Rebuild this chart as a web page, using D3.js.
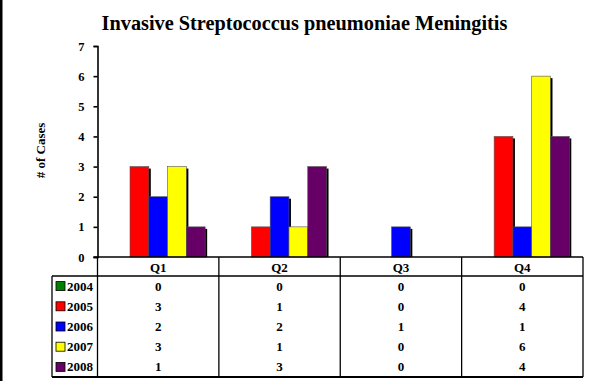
<!DOCTYPE html>
<html>
<head>
<meta charset="utf-8">
<script src="https://cdn.jsdelivr.net/npm/d3@7"></script>
<style>
  html, body { margin: 0; padding: 0; background: #fff; }
  svg { display: block; }
  text { font-family: "Liberation Serif", "Times New Roman", serif; font-weight: bold; fill: #000; }
</style>
</head>
<body>
<svg id="chart" width="589" height="381"></svg>
<script>
const title = "Invasive Streptococcus pneumoniae Meningitis";
const yAxisLabel = "# of Cases";
const quarters = ["Q1", "Q2", "Q3", "Q4"];
const years = ["2004", "2005", "2006", "2007", "2008"];
const colors = ["#008000", "#FF0000", "#0000FF", "#FFFF00", "#660066"];
const v2004 = [0, 0, 0, 0];
const v2005 = [3, 1, 0, 4];
const v2006 = [2, 2, 1, 1];
const v2007 = [3, 1, 0, 6];
const v2008 = [1, 3, 0, 4];
const yTicks = [0, 1, 2, 3, 4, 5, 6, 7];

const seriesValues = [v2004, v2005, v2006, v2007, v2008];
const series = years.map((y, i) => ({ year: y, color: colors[i], values: seriesValues[i] }));

const svg = d3.select("#chart");
const W = 589, H = 381;

// left frame line
svg.append("rect").attr("x", 0).attr("y", 0).attr("width", 2.5).attr("height", H).attr("fill", "#000");

const plotLeft = 97.5, plotRight = 583, plotTop = 46, plotBottom = 257;
const tableTop = plotBottom, headerBottom = 276, tableBottom = 377, legendLeft = 52;

const x = d3.scaleBand().domain(quarters).range([plotLeft, plotRight]).paddingInner(0).paddingOuter(0);
const xInner = d3.scaleBand().domain(years).range([0, x.bandwidth()]).paddingInner(0).paddingOuter(0.73);
const y = d3.scaleLinear().domain([0, 7]).range([plotBottom, plotTop]);

// title
svg.append("text").attr("x", 304.5).attr("y", 29.5).attr("text-anchor", "middle")
  .style("font-size", "20.3px").text(title);

// y axis label
svg.append("text").attr("transform", `translate(44.5,150.5) rotate(-90)`)
  .attr("text-anchor", "middle").style("font-size", "13px").text(yAxisLabel);

// bars
const groups = svg.append("g").selectAll("g").data(series).join("g");
const barData = d => quarters.map((q, i) => ({ q, v: d.values[i], year: d.year, color: d.color })).filter(e => e.v > 0);
// shadows
groups.selectAll("rect.shadow").data(barData).join("rect").attr("class", "shadow")
  .attr("x", e => x(e.q) + xInner(e.year) + 2)
  .attr("y", e => y(e.v) + 2)
  .attr("width", xInner.bandwidth())
  .attr("height", e => plotBottom - y(e.v) - 2)
  .attr("fill", "#000");
groups.selectAll("rect.bar").data(barData).join("rect").attr("class", "bar")
  .attr("x", e => x(e.q) + xInner(e.year))
  .attr("y", e => y(e.v))
  .attr("width", xInner.bandwidth())
  .attr("height", e => plotBottom - y(e.v))
  .attr("fill", e => e.color)
  .attr("stroke", "#555").attr("stroke-width", 0.6);

// y axis
const yAxis = d3.axisLeft(y).tickValues(yTicks).tickSize(4).tickPadding(9).tickFormat(d3.format("d"));
const ga = svg.append("g").attr("transform", `translate(${plotLeft},0)`).call(yAxis);
ga.attr("font-family", null).attr("font-size", null);
ga.select(".domain").attr("stroke", "#000").attr("stroke-width", 1.6);
ga.selectAll(".tick line").attr("stroke", "#000").attr("stroke-width", 1.6);
ga.selectAll(".tick text").style("font-size", "12.5px");

// table
const tbl = svg.append("g");
const line = (x1, y1, x2, y2, w) => tbl.append("line").attr("x1", x1).attr("y1", y1).attr("x2", x2).attr("y2", y2)
  .attr("stroke", "#000").attr("stroke-width", w || 1.3);
line(plotLeft - 4, tableTop, plotRight, tableTop, 1.6);
line(legendLeft, headerBottom, plotRight, headerBottom);
line(legendLeft, tableBottom, plotRight, tableBottom, 1.8);
line(legendLeft, headerBottom, legendLeft, tableBottom);
[plotLeft, ...quarters.map(q => x(q) + x.bandwidth())].forEach(xx => line(xx, tableTop, xx, tableBottom));

tbl.selectAll("text.hdr").data(quarters).join("text").attr("class", "hdr")
  .attr("x", q => x(q) + x.bandwidth() / 2).attr("y", 271.5).attr("text-anchor", "middle")
  .style("font-size", "13px").text(q => q);

const rowH = (tableBottom - headerBottom) / years.length;
series.forEach((s, i) => {
  const cy = headerBottom + rowH * (i + 0.5);
  tbl.append("rect").attr("x", 56).attr("y", cy - 4.5).attr("width", 9).attr("height", 9)
    .attr("fill", s.color).attr("stroke", "#000").attr("stroke-width", 0.8);
  tbl.append("text").attr("x", 67).attr("y", cy + 4.5).style("font-size", "13px").text(s.year);
  tbl.selectAll(null).data(quarters).join("text")
    .attr("x", q => x(q) + x.bandwidth() / 2).attr("y", cy + 4.5).attr("text-anchor", "middle")
    .style("font-size", "13px").text((q, j) => s.values[j]);
});
</script>
</body>
</html>
